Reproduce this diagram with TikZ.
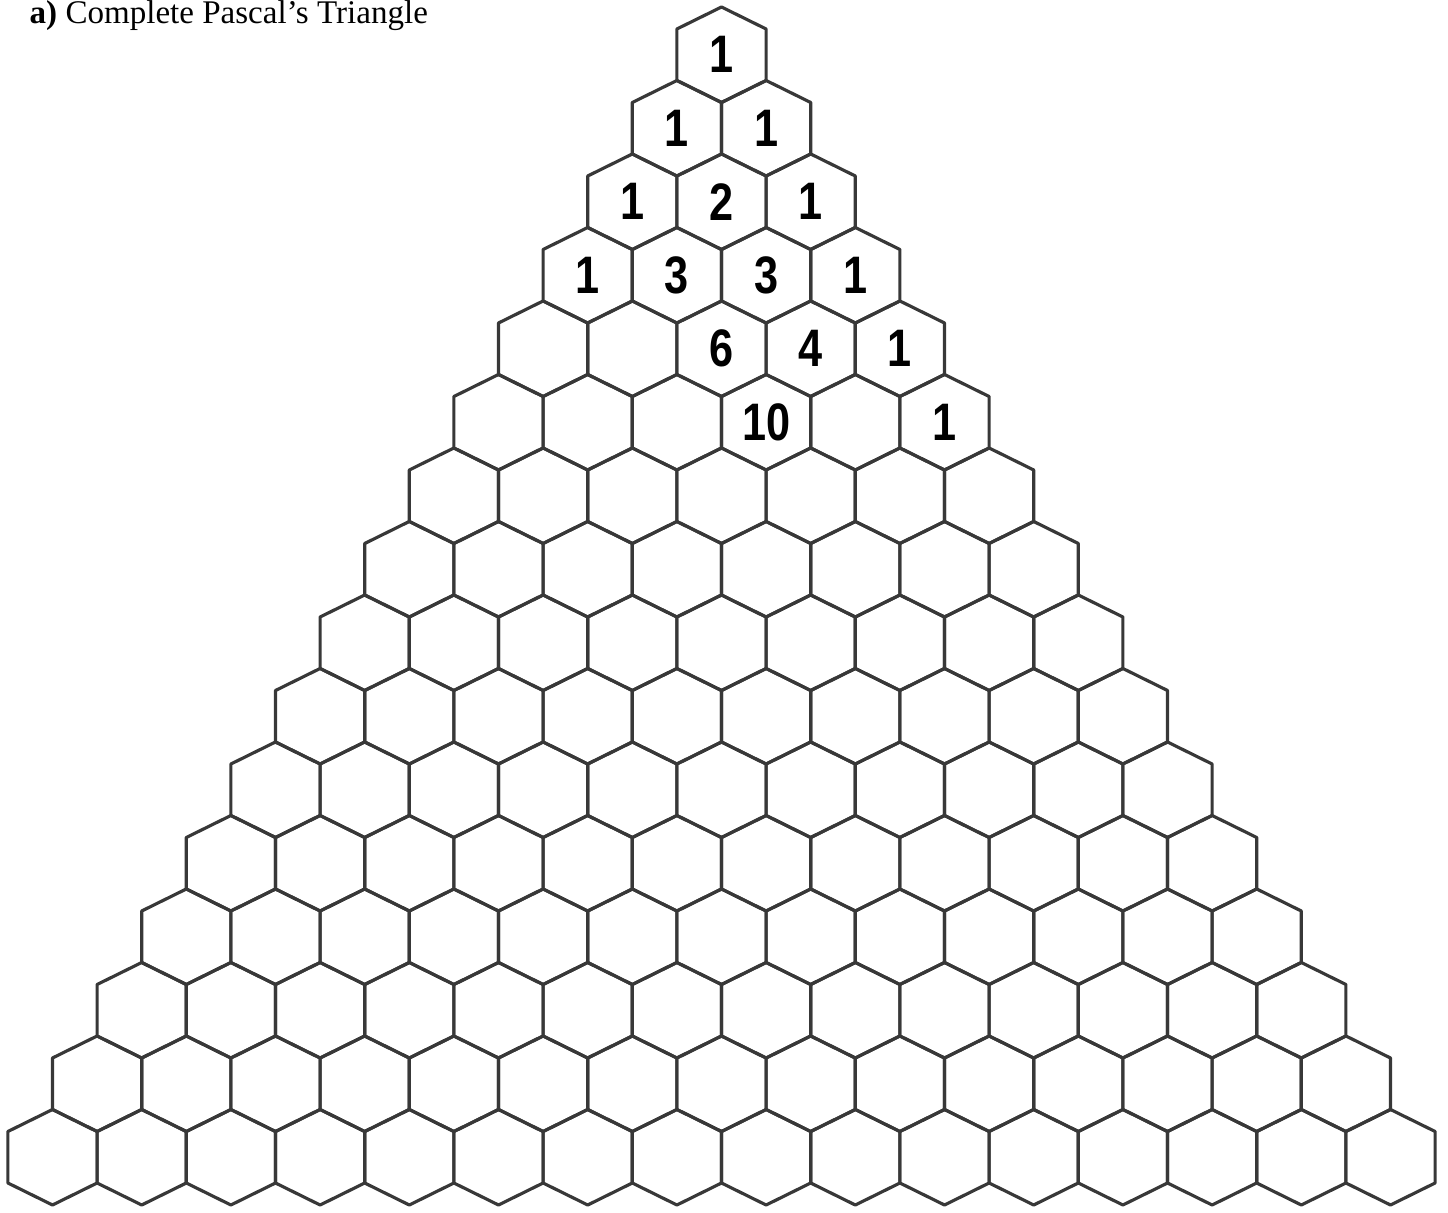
\documentclass[tikz,border=0pt]{standalone}
\usepackage{fontspec}
\setmainfont{Liberation Serif}
\newfontfamily\szamfont{Liberation Sans}
\usepackage{tikz}

\tikzset{
  hatszog/.style={draw=black!78, line width=0.9pt, line join=round},
  szam/.style={font=\szamfont\bfseries\fontsize{15}{15}\selectfont, inner sep=0pt}
}
\newcommand{\keskeny}[1]{\scalebox{0.82}[1]{#1}}

\begin{document}
\begin{tikzpicture}[x=0.01cm,y=-0.01cm]
  \useasboundingbox (0,0) rectangle (1448,1213);

  % cim
  \node[anchor=base west, inner sep=0pt, font=\fontsize{9.4}{11}\selectfont] (cim) at (29,24)
    {\textbf{a)} Complete Pascal’s Triangle};

  % hatszogek
  \foreach \r in {0,...,15}{
    \foreach \k in {0,...,\r}{
      \pgfmathsetmacro{\hx}{721.5+(\k-\r/2)*89.2}
      \pgfmathsetmacro{\hy}{54.75+\r*73.5}
      \coordinate (h-\r-\k) at (\hx,\hy);
      \draw[hatszog] (h-\r-\k) ++(0,-47.75) -- ++(44.6,22) -- ++(0,51.5)
        -- ++(-44.6,22) -- ++(-44.6,-22) -- ++(0,-51.5) -- cycle;
    }
  }

  % szamok
  \foreach \r/\k/\v in {0/0/1, 1/0/1, 1/1/1, 2/0/1, 2/1/2, 2/2/1,
                        3/0/1, 3/1/3, 3/2/3, 3/3/1, 4/2/6, 4/3/4, 4/4/1,
                        5/3/10, 5/5/1}
    \node[szam] (n-\r-\k) at (h-\r-\k) {\keskeny{\v}};

\end{tikzpicture}
\end{document}
